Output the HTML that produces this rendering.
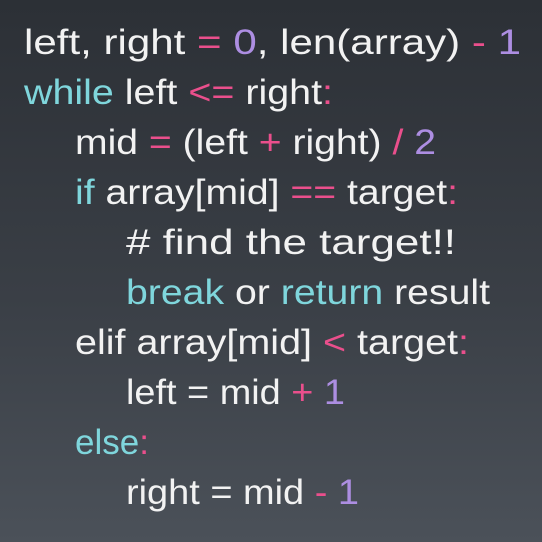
<!DOCTYPE html>
<html><head><meta charset="utf-8"><style>
html,body{margin:0;padding:0}
body{width:542px;height:542px;background:linear-gradient(180deg,#2c3036 0%,#3a3f46 55%,#4b5159 100%);overflow:hidden}
svg{display:block}
text{font-family:"Liberation Sans",sans-serif;font-size:35px;fill:#f2f2f2}
.k{fill:#7fd6dc}.o{fill:#ea4f8c}.n{fill:#ad8ee2}
</style></head><body>
<svg width="542" height="542" viewBox="0 0 542 542">
<text x="24" y="54" textLength="497" lengthAdjust="spacingAndGlyphs">left, right <tspan class="o">=</tspan> <tspan class="n">0</tspan>, len(array) <tspan class="o">-</tspan> <tspan class="n">1</tspan></text>
<text x="24" y="104" textLength="309" lengthAdjust="spacingAndGlyphs"><tspan class="k">while</tspan> left <tspan class="o">&lt;=</tspan> right<tspan class="o">:</tspan></text>
<text x="75" y="154" textLength="361" lengthAdjust="spacingAndGlyphs">mid <tspan class="o">=</tspan> (left <tspan class="o">+</tspan> right) <tspan class="o">/</tspan> <tspan class="n">2</tspan></text>
<text x="75" y="204" textLength="383" lengthAdjust="spacingAndGlyphs"><tspan class="k">if</tspan> array[mid] <tspan class="o">==</tspan> target<tspan class="o">:</tspan></text>
<text x="126" y="254" textLength="330" lengthAdjust="spacingAndGlyphs"># find the target!!</text>
<text x="126" y="304" textLength="364" lengthAdjust="spacingAndGlyphs"><tspan class="k">break</tspan> or <tspan class="k">return</tspan> result</text>
<text x="75" y="354" textLength="394" lengthAdjust="spacingAndGlyphs">elif array[mid] <tspan class="o">&lt;</tspan> target<tspan class="o">:</tspan></text>
<text x="126" y="404" textLength="219" lengthAdjust="spacingAndGlyphs">left = mid <tspan class="o">+</tspan> <tspan class="n">1</tspan></text>
<text x="75" y="454"><tspan class="k">else</tspan><tspan class="o">:</tspan></text>
<text x="126" y="504" textLength="233" lengthAdjust="spacingAndGlyphs">right = mid <tspan class="o">-</tspan> <tspan class="n">1</tspan></text>
</svg>
</body></html>
